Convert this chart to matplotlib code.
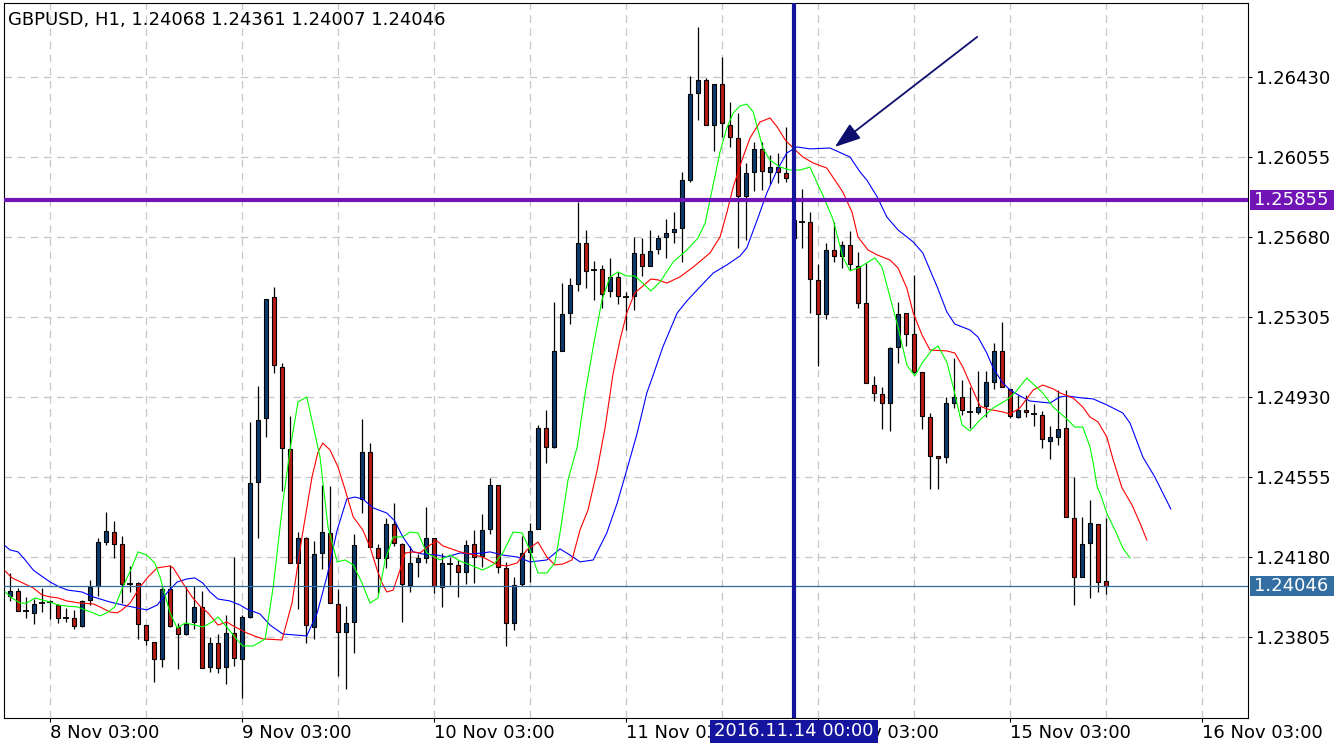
import numpy as np
import matplotlib.pyplot as plt
from matplotlib.patches import Rectangle

# GBPUSD H1 candles, prices in points (1e-5)
opens = [123997, 124021, 123927, 123918, 123964, 123969, 123955, 123894, 123894, 123857,
         123979, 124044, 124250, 124297, 124241, 124054, 124058, 123861, 123782, 123702,
         124030, 123852, 123819, 123875, 123946, 123664, 123777, 123664, 123824, 123702,
         123899, 124532, 124832, 125399, 125071, 124686, 124152, 124269, 123852, 124199,
         124293, 123960, 123829, 123875, 124452, 124672, 124222, 124175, 124335, 124241,
         124049, 124157, 124175, 124269, 124039, 124147, 124143, 124110, 124241, 124185,
         124311, 124518, 124129, 123871, 124054, 124204, 124311, 124785, 124696, 125146,
         125324, 125460, 125652, 125525, 125530, 125427, 125493, 125399, 125404, 125600,
         125544, 125624, 125680, 125704, 125722, 125947, 126355, 126416, 126205, 126397,
         126205, 126144, 125872, 125985, 126093, 125985, 126008, 125980, 125675, 125750,
         125750, 125479, 125319, 125619, 125591, 125643, 125544, 125371, 124986, 124944,
         124902, 125164, 125324, 125225, 125047, 124836, 124654, 124649, 124902, 124930,
         124860, 124860, 124888, 125000, 125146, 124968, 124836, 124869, 124850, 124846,
         124724, 124743, 124785, 124363, 124086, 124246, 124335, 124068]
highs = [124105, 124035, 123993, 123983, 124035, 123979, 123960, 123941, 123932, 123979,
         124072, 124269, 124391, 124349, 124279, 124138, 124063, 123861, 123782, 124039,
         124143, 123871, 124044, 124044, 124021, 123805, 123819, 123908, 124180, 123908,
         124813, 124982, 125389, 125446, 125089, 124841, 124297, 124274, 124255, 124518,
         124513, 124030, 123950, 124288, 124827, 124714, 124241, 124363, 124433, 124246,
         124232, 124194, 124414, 124269, 124199, 124180, 124166, 124260, 124307, 124382,
         124550, 124518, 124157, 124086, 124279, 124339, 124799, 124869, 125375, 125464,
         125488, 125844, 125713, 125568, 125549, 125582, 125516, 125422, 125680, 125675,
         125713, 125689, 125764, 125797, 125985, 126435, 126664, 126425, 126397, 126524,
         126313, 126261, 126027, 126125, 126125, 126064, 126074, 126196, 125783, 125905,
         125797, 125554, 125652, 125750, 125661, 125708, 125610, 125558, 125029, 124977,
         125164, 125375, 125324, 125502, 125047, 124855, 124654, 124930, 125113, 125010,
         124977, 125052, 125052, 125183, 125282, 124968, 124939, 124939, 124897, 124864,
         124794, 124963, 124963, 124555, 124368, 124447, 124335, 124361]
lows = [123974, 123927, 123894, 123866, 123922, 123889, 123871, 123875, 123843, 123852,
        123955, 123997, 124236, 124175, 123964, 124016, 123796, 123768, 123594, 123664,
        123852, 123655, 123814, 123843, 123660, 123641, 123636, 123585, 123669, 123519,
        123894, 124269, 124743, 125043, 124489, 124152, 123936, 123777, 123796, 124124,
        123964, 123622, 123561, 123730, 124386, 124227, 124011, 124129, 124232, 123875,
        124016, 124086, 124152, 124011, 123946, 124049, 123993, 124054, 124058, 124133,
        124288, 124105, 123763, 123838, 124044, 124063, 124311, 124621, 124691, 125146,
        125272, 125427, 125441, 125385, 125347, 125399, 125366, 125244, 125338, 125497,
        125544, 125600, 125582, 125652, 125563, 125938, 126228, 126205, 126083, 126149,
        126102, 125629, 125666, 125896, 125900, 125929, 125933, 125938, 125666, 125629,
        125324, 125075, 125296, 125563, 125535, 125525, 125347, 124996, 124911, 124780,
        124771, 125089, 125169, 125043, 124780, 124499, 124499, 124621, 124879, 124846,
        124785, 124850, 124836, 124968, 124977, 124832, 124832, 124836, 124794, 124691,
        124639, 124705, 124368, 123955, 124086, 123988, 124016, 124007]
closes = [124021, 123927, 123927, 123960, 123964, 123969, 123894, 123894, 123857, 123974,
          124039, 124250, 124302, 124241, 124054, 124054, 123866, 123791, 123702, 124030,
          123857, 123819, 123866, 123946, 123660, 123777, 123660, 123824, 123707, 123899,
          124527, 124822, 125389, 125080, 124691, 124152, 124269, 123861, 124194, 124297,
          123964, 123829, 123871, 124236, 124672, 124227, 124175, 124335, 124246, 124054,
          124152, 124175, 124269, 124044, 124152, 124147, 124110, 124236, 124180, 124307,
          124518, 124133, 123871, 124049, 124199, 124302, 124785, 124696, 125146, 125319,
          125455, 125652, 125521, 125525, 125413, 125493, 125404, 125399, 125605, 125544,
          125614, 125675, 125699, 125718, 125947, 126350, 126416, 126205, 126397, 126214,
          126149, 125872, 125980, 126093, 125989, 126008, 125985, 125957, 125760, 125750,
          125483, 125319, 125619, 125591, 125643, 125554, 125371, 124996, 124949, 124902,
          125160, 125319, 125225, 125047, 124841, 124654, 124644, 124902, 124930, 124869,
          124860, 124883, 125000, 125146, 124977, 124841, 124869, 124860, 124850, 124733,
          124743, 124780, 124368, 124086, 124241, 124339, 124063, 124046]

# Alligator lines: (bar, price points)
jaw = [(-0.6, 124232), (0, 124213), (1, 124204), (1.9, 124166), (2.9, 124119), (3.4, 124105),
       (5, 124063), (6.2, 124039), (7.2, 124025), (9, 124016), (10.4, 123993), (12.5, 123969),
       (14.1, 123955), (15.9, 123941), (17.1, 123932), (18.4, 123955), (19.6, 124011),
       (20.9, 124063), (22.1, 124077), (23.1, 124082), (24.1, 124058), (25, 124016),
       (26, 123983), (27.5, 123974), (28.75, 123955), (29.6, 123936), (31.25, 123913),
       (32.5, 123861), (34.1, 123819), (37.1, 123810), (38.4, 123918), (39.6, 124086),
       (40.9, 124307), (42.1, 124452), (43.1, 124461), (44.1, 124452), (45.4, 124410),
       (47.1, 124386), (48.1, 124349), (49.1, 124274), (50.4, 124204), (51.6, 124194),
       (53.4, 124189), (54.6, 124180), (56.25, 124199), (57.5, 124194), (59.1, 124199),
       (60, 124204), (61.6, 124189), (63.4, 124180), (65, 124157), (67.1, 124166),
       (68.75, 124218), (70, 124189), (71.25, 124157), (72.9, 124166), (74.6, 124293),
       (75.9, 124433), (77.1, 124588), (78.4, 124761), (79.6, 124949), (80.4, 125033),
       (81.6, 125164), (83.4, 125324), (84.6, 125380), (86.25, 125446), (87.9, 125511),
       (89.6, 125549), (91.25, 125591), (92.1, 125629), (93.4, 125760), (94.6, 125886),
       (95.9, 125994), (97.1, 126074), (98.4, 126102), (100, 126093), (102.5, 126097),
       (105, 126055), (106.25, 125985), (107.1, 125947), (108.4, 125868), (109.6, 125774),
       (111, 125713), (112.9, 125657), (114.1, 125605), (115.9, 125446), (117.1, 125329),
       (118.1, 125272), (120, 125244), (121, 125211), (122.1, 125136), (122.9, 125066),
       (124, 125000), (125, 124963), (126.25, 124935), (127.5, 124911), (130, 124902),
       (131.25, 124930), (132.1, 124935), (134.1, 124925), (135.4, 124921), (137.1, 124893),
       (139.1, 124855), (140, 124808), (141.6, 124649), (143.1, 124555), (145.1, 124405)]
teeth = [(-0.6, 124114), (0.25, 124082), (1.6, 124058), (2.9, 124035), (4, 124002), (5, 123993),
         (6, 123988), (7.1, 123974), (8.75, 123964), (10.4, 123960), (11.25, 123946),
         (12.5, 123922), (13.4, 123918), (14, 123932), (15, 123964), (16.25, 124039),
         (17.25, 124086), (18.4, 124129), (20, 124138), (20.4, 124129), (21.6, 124058),
         (22.75, 123993), (23.75, 123950), (24.75, 123918), (26, 123861), (27.1, 123875),
         (27.9, 123857), (29.6, 123824), (30.9, 123805), (31.6, 123796), (34, 123791),
         (35.25, 123964), (36.5, 124274), (37.75, 124555), (38.5, 124672), (39.1, 124714),
         (40, 124682), (41, 124602), (41.9, 124494), (42.9, 124368), (44.1, 124307),
         (45, 124227), (45.9, 124119), (46.5, 124058), (47.1, 124016), (47.9, 124025),
         (48.75, 124119), (49.4, 124199), (50.4, 124204), (51.25, 124199), (52.5, 124236),
         (53.4, 124255), (54.1, 124232), (56.25, 124204), (57.5, 124194), (59.1, 124180),
         (60.9, 124143), (62.1, 124138), (63.4, 124152), (64.6, 124213), (66, 124250),
         (67.1, 124180), (68.1, 124143), (69.1, 124147), (70.25, 124166), (71.25, 124307),
         (72.25, 124400), (73.4, 124588), (74.4, 124789), (75.4, 125043), (76.25, 125197),
         (77.1, 125324), (78.1, 125418), (79.1, 125450), (80.1, 125483), (81, 125479),
         (82.1, 125464), (83.75, 125493), (85.4, 125539), (87.5, 125605), (88.75, 125680),
         (89.6, 125793), (90.4, 125914), (91.5, 126041), (92.5, 126144), (93.75, 126219),
         (95, 126238), (95.9, 126196), (96.9, 126135), (97.9, 126097), (99.1, 126055),
         (100.4, 126027), (102.1, 126003), (103.1, 125947), (104.1, 125891), (105.25, 125797),
         (106, 125680), (107.25, 125619), (108.4, 125596), (110, 125572), (111, 125535),
         (112.1, 125441), (112.9, 125324), (114, 125221), (115, 125150), (117.1, 125146),
         (118.1, 125136), (119.1, 125071), (120.25, 124972), (121.25, 124888), (122.1, 124874),
         (124.1, 124860), (125, 124850), (126.25, 124879), (127.9, 124963), (129.1, 124986),
         (130.4, 124968), (131.25, 124949), (132.9, 124925), (134.1, 124883), (135, 124836),
         (136, 124813), (137.1, 124743), (137.9, 124635), (139, 124504), (140.25, 124424),
         (141.25, 124339), (142.1, 124260)]
lips = [(-0.6, 124016), (0.25, 123988), (1.25, 123964), (2.1, 123964), (3.1, 123988), (4, 123979),
        (5, 123969), (6, 123955), (7.1, 123950), (8.4, 123946), (9.4, 123932), (10.4, 123918),
        (11.25, 123904), (12.1, 123918), (13.1, 123946), (14.1, 124039), (15.25, 124133),
        (16, 124204), (17.1, 124189), (18.1, 124152), (18.75, 124086), (20, 123918),
        (20.9, 123847), (21.9, 123871), (23.1, 123861), (24.1, 123852), (25.25, 123875),
        (26, 123899), (27.1, 123852), (28.4, 123791), (29.1, 123763), (30.4, 123763),
        (31.9, 123796), (32.9, 124039), (34.1, 124433), (35, 124682), (36, 124907),
        (37.1, 124930), (38.1, 124761), (38.75, 124649), (39.75, 124321), (40.9, 124157),
        (41.9, 124166), (42.9, 124143), (44, 124058), (45, 123964), (46, 123988),
        (46.9, 124166), (47.9, 124274), (49.1, 124274), (50, 124297), (51, 124293),
        (52.1, 124199), (53.75, 124166), (55, 124189), (56.25, 124161), (57.5, 124143),
        (59.1, 124119), (60.4, 124143), (61.6, 124199), (62.9, 124297), (64, 124293),
        (65, 124213), (66, 124105), (67.1, 124105), (68.1, 124152), (68.75, 124293),
        (69.75, 124541), (70.9, 124696), (71.9, 124949), (72.9, 125164), (74, 125385),
        (75, 125493), (76, 125516), (77.1, 125497), (78.1, 125497), (79.1, 125464),
        (80.1, 125427), (81.25, 125469), (82.9, 125563), (84.6, 125619), (86, 125675),
        (86.9, 125746), (87.5, 125853), (88.1, 125961), (88.75, 126078), (89.6, 126191),
        (90.4, 126261), (91.25, 126294), (92.1, 126303), (92.9, 126266), (93.5, 126182),
        (94.1, 126097), (95, 126041), (96.25, 126008), (97.5, 125994), (98.75, 125994),
        (100, 126008), (100.9, 125933), (101.6, 125877), (102.9, 125760), (104.1, 125586),
        (105, 125521), (106.25, 125539), (108.1, 125582), (109, 125539), (110, 125399),
        (111, 125258), (112.1, 125080), (113.1, 125029), (114.1, 125094), (115.25, 125150),
        (116, 125169), (117.1, 125094), (117.9, 124977), (119, 124799), (120, 124771),
        (121.25, 124822), (122.9, 124879), (124.6, 124916), (125.6, 124949), (127.1, 125019),
        (129.1, 124949), (130.4, 124883), (132.1, 124827), (133.1, 124789), (134.1, 124789),
        (135, 124696), (135.4, 124621), (135.9, 124508), (136.25, 124480), (137.1, 124386),
        (138.4, 124283), (139.1, 124222), (140, 124175)]

price_ticks = [1.26430, 1.26055, 1.25680, 1.25305, 1.24930, 1.24555, 1.24180, 1.23805]
date_ticks = [5, 29, 53, 77, 101, 125, 149]
date_labels = ['8 Nov 03:00', '9 Nov 03:00', '10 Nov 03:00', '11 Nov 03:00',
               '14 Nov 03:00', '15 Nov 03:00', '16 Nov 03:00']
level_price = 1.25855
cursor_bar = 98
cursor_label = '2016.11.14 00:00'
arrow_start = (120.9, 1.26618)
arrow_end = (103.1, 1.26102)

W, H = 1334, 750
plt.rcParams['font.family'] = 'DejaVu Sans'
fig = plt.figure(figsize=(W / 100, H / 100), dpi=100)
ax = fig.add_axes([4 / W, (H - 718) / H, (1248 - 4) / W, (718 - 3) / H])
ax.set_xlim(-0.75, 154.75)
ax.set_ylim(1.234253, 1.267768)

o = np.array(opens) / 1e5
h = np.array(highs) / 1e5
l = np.array(lows) / 1e5
c = np.array(closes) / 1e5
idx = np.arange(len(o))

grid_kw = dict(color='#c6c6c6', lw=0.9, dashes=(6, 4.5), zorder=0)
for gx in np.arange(5, 155, 12):
    ax.axvline(gx, **grid_kw)
for gy in price_ticks:
    ax.axhline(gy, **grid_kw)

# candles
ax.vlines(idx, l, h, color='black', lw=0.9, zorder=2)
up = c > o
dn = c < o
eq = c == o
ax.bar(idx[up], (c - o)[up], bottom=o[up], width=0.6, color='#0e3a6c',
       edgecolor='black', lw=0.8, zorder=3)
ax.bar(idx[dn], (o - c)[dn], bottom=c[dn], width=0.6, color='#b41c12',
       edgecolor='black', lw=0.8, zorder=3)
ax.hlines(o[eq], idx[eq] - 0.35, idx[eq] + 0.35, color='black', lw=1.3, zorder=3)

# alligator
for line, col in [(jaw, '#0000ff'), (teeth, '#ff0000'), (lips, '#00ff00')]:
    bx, py = zip(*line)
    ax.plot(bx, np.array(py) / 1e5, color=col, lw=0.8, zorder=4)

# horizontal / vertical markers
ax.axhline(c[-1], color='#2f6aa3', lw=0.9, zorder=5)
ax.axhline(level_price, color='#7014b6', lw=3, zorder=5)
ax.axvline(cursor_bar, color='#15159c', lw=3, zorder=6)

ax.annotate('', xy=arrow_end, xytext=arrow_start,
            arrowprops=dict(arrowstyle='-|>,head_length=1.0,head_width=0.35',
                            color='#0e0e6e', lw=1.3, mutation_scale=16, shrinkA=0, shrinkB=0),
            zorder=7)

# axes
for sp in ax.spines.values():
    sp.set_color('black')
    sp.set_linewidth(0.8)
ax.yaxis.tick_right()
ax.set_yticks(price_ticks)
ax.set_yticklabels([f'{p:.5f}' for p in price_ticks])
ax.set_xticks(date_ticks)
ax.set_xticklabels(date_labels, ha='left')
ax.tick_params(axis='y', length=3, width=0.8, pad=3, labelsize=13, colors='black')
ax.tick_params(axis='x', length=3, width=0.8, pad=1, labelsize=13, colors='black')

fig.text(8 / W, 1 - 20 / H, f'GBPUSD, H1, {o[-1]:.5f} {h[-1]:.5f} {l[-1]:.5f} {c[-1]:.5f}',
         va='center', ha='left', fontsize=13, color='black')

# price labels on the right edge
for p, col in [(level_price, '#7014b6'), (c[-1], '#336ea3')]:
    yp = ax.transData.transform((0, p))[1]
    fig.add_artist(Rectangle((1250 / W, (yp - 10) / H), 84 / W, 20 / H, transform=fig.transFigure,
                             facecolor=col, edgecolor='none', zorder=5))
    fig.text(1254 / W, yp / H, f'{p:.5f}', va='center', ha='left', fontsize=13,
             color='white', zorder=6)

# cursor date label (covers the axis labels under it, as in the terminal)
xc = ax.transData.transform((cursor_bar, 0))[0]
fig.add_artist(Rectangle(((xc - 84) / W, (H - 743) / H), 168 / W, 23 / H, transform=fig.transFigure,
                         facecolor='#14149e', edgecolor='none', zorder=5))
fig.text(xc / W, 1 - 731.5 / H, cursor_label, va='center', ha='center', fontsize=13,
         color='white', zorder=6)

fig.savefig('out.png', dpi=100, facecolor='white')
